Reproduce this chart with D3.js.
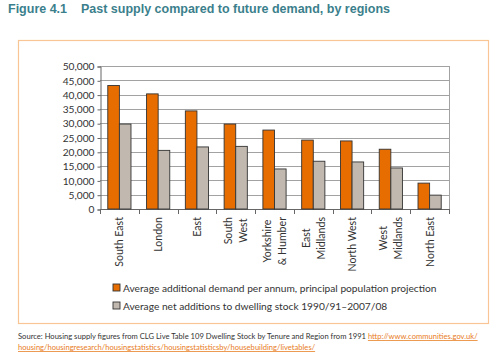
<!DOCTYPE html>
<html><head><meta charset="utf-8">
<script src="https://cdn.jsdelivr.net/npm/d3@7"></script>
<style>body{margin:0;background:#fff}svg{display:block}</style>
</head><body>
<script>
const categories = [["South East"],["London"],["East"],["South","West"],["Yorkshire","& Humber"],["East","Midlands"],["North West"],["West","Midlands"],["North East"]];
const demand = [43200, 40250, 34300, 29700, 27600, 24100, 23800, 20900, 9050];
const supply = [29700, 20500, 21700, 21900, 14000, 16700, 16450, 14350, 4850];
const yTicks = [0,5000,10000,15000,20000,25000,30000,35000,40000,45000,50000];
const seriesNames = ["Average additional demand per annum, principal population projection","Average net additions to dwelling stock 1990/91\u20132007/08"];
const colors = ["#e86d00","#c1b9b0"];

const W=500,H=363;
const svg=d3.select("body").append("svg").attr("width",W).attr("height",H);
const font="Lato, 'Open Sans', sans-serif";

svg.append("text").attr("x",8).attr("y",13).attr("font-family","'Liberation Sans', Arial, sans-serif")
  .attr("font-weight","bold").attr("font-size",12.5).attr("fill","#3b7f8c")
  .attr("xml:space","preserve").text("Figure 4.1    Past supply compared to future demand, by regions");

svg.append("rect").attr("x",18.5).attr("y",40.5).attr("width",470).attr("height",283)
  .attr("fill","none").attr("stroke","#f9c594").attr("stroke-width",1.2);

const L=100,R=449,T=66,B=209;
const x=d3.scaleBand().domain(d3.range(categories.length)).range([L,R]);
const y=d3.scaleLinear().domain([0,50000]).range([B,T]);

const g=svg.append("g");
g.selectAll("line.grid").data(yTicks.slice(1)).join("line").attr("class","grid")
  .attr("x1",L).attr("x2",R).attr("y1",d=>Math.round(y(d))+0.5).attr("y2",d=>Math.round(y(d))+0.5)
  .attr("stroke","#8a8a8a").attr("stroke-width",0.8);
g.append("line").attr("x1",R+0.5).attr("x2",R+0.5).attr("y1",T).attr("y2",B).attr("stroke","#8a8a8a").attr("stroke-width",0.8);

const yAxis=d3.axisLeft(y).tickValues(yTicks).tickFormat(d3.format(",")).tickSize(3).tickPadding(3);
const ya=svg.append("g").attr("transform",`translate(${L+0.5},0.5)`).call(yAxis);
ya.select(".domain").attr("stroke","#666");
ya.selectAll(".tick line").attr("stroke","#666");
ya.selectAll("text").attr("font-family",font).attr("font-size",10.2).attr("fill","#333");

// x axis
svg.append("line").attr("x1",L).attr("x2",R+1).attr("y1",B+0.5).attr("y2",B+0.5).attr("stroke","#666");
svg.selectAll("line.xt").data(d3.range(categories.length+1)).join("line").attr("class","xt")
  .attr("x1",d=>Math.round(L+d*x.step())+0.5).attr("x2",d=>Math.round(L+d*x.step())+0.5)
  .attr("y1",B).attr("y2",B+5).attr("stroke","#666");

const bw=11.6;
const bars=svg.append("g");
[demand,supply].forEach((arr,si)=>{
  bars.selectAll(null).data(arr).join("rect")
    .attr("x",(d,i)=>x(i)+x.bandwidth()/2-bw+si*bw)
    .attr("y",d=>y(d)).attr("width",bw).attr("height",d=>B-y(d))
    .attr("fill",colors[si]).attr("stroke","#333").attr("stroke-width",0.9);
});

// category labels
const lab=svg.append("g");
categories.forEach((lines,i)=>{
  const cx=x(i)+x.bandwidth()/2;
  const gg=lab.append("g").attr("transform",`translate(${cx},217) rotate(-90)`);
  const ts=lines.map((s,k)=>gg.append("text").attr("font-family",font).attr("font-size",10.6).attr("fill","#333")
     .attr("text-anchor","middle").attr("dominant-baseline","central")
     .attr("y",(k-(lines.length-1)/2)*15).text(s));
  const maxLen=d3.max(ts,t=>t.node().getComputedTextLength());
  ts.forEach(t=>t.attr("x",-maxLen/2));
});

// legend
seriesNames.forEach((n,i)=>{
  const ly=[288,306][i], lx=113;
  svg.append("rect").attr("x",lx).attr("y",ly-4).attr("width",7).attr("height",7)
    .attr("fill",colors[i]).attr("stroke","#333").attr("stroke-width",0.9);
  svg.append("text").attr("x",lx+10).attr("y",ly+3.5).attr("font-family",font).attr("font-size",10.2)
    .attr("fill","#333").text(n);
});

// source
const src=svg.append("text").attr("x",18).attr("y",339).attr("font-family",font).attr("font-size",7.6).attr("fill","#333");
src.append("tspan").text("Source: Housing supply figures from CLG Live Table 109 Dwelling Stock by Tenure and Region from 1991 ");
src.append("tspan").attr("fill","#e87b1c").attr("text-decoration","underline").text("http://www.communities.gov.uk/");
svg.append("text").attr("x",18).attr("y",350).attr("font-family",font).attr("font-size",7.6).attr("fill","#e87b1c")
  .attr("text-decoration","underline").text("housing/housingresearch/housingstatistics/housingstatisticsby/housebuilding/livetables/");
</script>
</body></html>
